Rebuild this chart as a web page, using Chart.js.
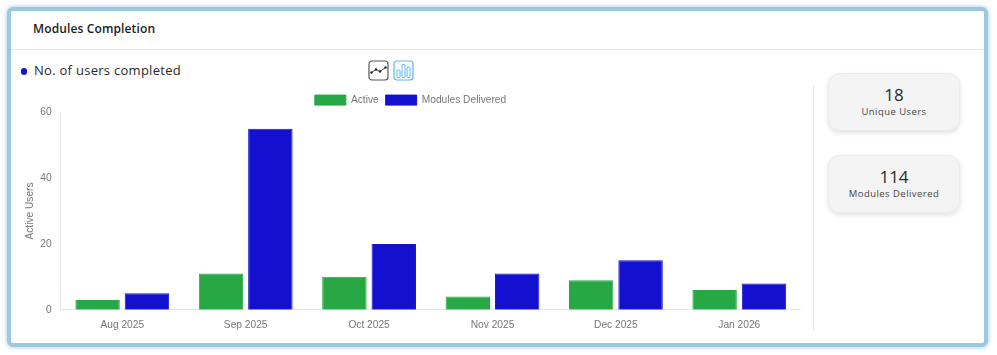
<!DOCTYPE html>
<html>
<head>
<meta charset="utf-8">
<title>Modules Completion</title>
<script src="https://cdn.jsdelivr.net/npm/chart.js@4/dist/chart.umd.min.js"></script>
<style>
  html, body { margin: 0; padding: 0; width: 997px; height: 355px; background: #fff; overflow: hidden; }
  body { font-family: "Open Sans", sans-serif; position: relative; }
  .frame {
    position: absolute; left: 7px; top: 7px; width: 973px; height: 332px;
    border: 4px solid #9cc8e0; border-radius: 6px;
    box-shadow: 0 0 5px rgba(120, 175, 210, .7); background: #fff;
  }
  .title { position: absolute; left: 33px; top: 20px; font-size: 12px; font-weight: 600; letter-spacing: .13px; color: #1b1b1b; }
  .header-line { position: absolute; left: 11px; top: 49px; width: 973px; height: 1px; background: #e6e6e6; }
  .dot { position: absolute; left: 20.5px; top: 68px; width: 6.5px; height: 6.5px; border-radius: 50%; background: #1410d0; }
  .sub { position: absolute; left: 34px; top: 61px; font-size: 13px; font-weight: 500; letter-spacing: .28px; color: #2a2a2a; }
  .icon { position: absolute; top: 60px; width: 21px; height: 21px; }
  .divider { position: absolute; left: 813px; top: 85px; width: 1px; height: 246px; background: #e6e6e6; }
  .stat {
    position: absolute; left: 828px; width: 132px; height: 58px; box-sizing: border-box;
    background: #f4f4f4; border: 1px solid #ececec; border-radius: 12px;
    box-shadow: 0 2px 5px rgba(0, 0, 0, .12); text-align: center; color: #2a2a2a;
  }
  .stat b { display: block; font-weight: 400; font-size: 17px; line-height: 20px; margin-top: 11px; }
  .stat span { display: block; font-size: 9.5px; font-weight: 500; line-height: 13px; color: #444; letter-spacing: .45px; }
  .chart-box { position: absolute; left: 20px; top: 88px; width: 781px; height: 244px; }
</style>
</head>
<body>
<div class="frame"></div>
<div class="title">Modules Completion</div>
<div class="header-line"></div>
<div class="dot"></div>
<div class="sub">No. of users completed</div>
<svg class="icon" style="left:368px" viewBox="0 0 21 21">
  <rect x="1" y="1" width="19" height="19" rx="3" fill="none" stroke="#555" stroke-width="1.2"/>
  <polyline points="3.5,12.5 8,9.5 12,11.5 17.5,7.5" fill="none" stroke="#222" stroke-width=".8"/>
  <circle cx="3.5" cy="12.5" r="1.2" fill="#222"/><circle cx="8" cy="9.5" r="1.2" fill="#222"/>
  <circle cx="12" cy="11.5" r="1.2" fill="#222"/><circle cx="17.5" cy="7.5" r="1.2" fill="#222"/>
</svg>
<svg class="icon" style="left:393px" viewBox="0 0 21 21">
  <rect x="1" y="1" width="19" height="19" rx="3" fill="none" stroke="#5bb8ea" stroke-width="1.2"/>
  <rect x="4" y="10" width="3" height="7.5" rx="1" fill="none" stroke="#5bb8ea"/>
  <rect x="9" y="4.5" width="3" height="13" rx="1" fill="none" stroke="#5bb8ea"/>
  <rect x="14" y="7" width="3" height="10.5" rx="1" fill="none" stroke="#5bb8ea"/>
</svg>
<div class="chart-box"><canvas id="modulesChart"></canvas></div>
<div class="divider"></div>
<div class="stat" style="top:73px"><b>18</b><span>Unique Users</span></div>
<div class="stat" style="top:155px"><b>114</b><span>Modules Delivered</span></div>

<script>
const months = ['Aug 2025', 'Sep 2025', 'Oct 2025', 'Nov 2025', 'Dec 2025', 'Jan 2026'];
const activeUsers = [3, 11, 10, 4, 9, 6];
const modulesDelivered = [5, 55, 20, 11, 15, 8];
const yTicks = [0, 20, 40, 60];

document.addEventListener('DOMContentLoaded', function() {
  Chart.defaults.font.family = '"Liberation Sans", Arial, sans-serif';
  Chart.defaults.color = '#777';

  // Tighten the gap between the legend and the plot
  const legendGap = {
    id: 'legendGap',
    beforeInit: function(chart) {
      const fit = chart.legend.fit;
      chart.legend.fit = function() {
        fit.call(this);
        this.height -= 3;
      };
    }
  };

  new Chart(document.getElementById('modulesChart'), {
    type: 'bar',
    plugins: [legendGap],
    data: {
      labels: months,
      datasets: [{
        label: 'Active',
        data: activeUsers,
        backgroundColor: '#28a745',
        borderColor: '#28a745',
        borderWidth: 1
      }, {
        label: 'Modules Delivered',
        data: modulesDelivered,
        backgroundColor: '#1410d0',
        borderColor: '#1410d0',
        borderWidth: 1
      }]
    },
    options: {
      responsive: true,
      maintainAspectRatio: false,
      animation: false,
      plugins: {
        legend: {
          position: 'top',
          labels: { boxWidth: 31, boxHeight: 10, padding: 7, font: { size: 10.2 } }
        },
        tooltip: { enabled: false }
      },
      scales: {
        x: {
          grid: { display: false },
          border: { color: '#e6e6e6' },
          ticks: { padding: 1, font: { size: 10.2 } }
        },
        y: {
          min: 0,
          max: 60,
          grid: { display: false },
          border: { color: '#e6e6e6' },
          afterBuildTicks: function(axis) {
            axis.ticks = yTicks.map(v => ({ value: v }));
          },
          ticks: { padding: 1, font: { size: 10.2 } },
          title: { display: true, text: 'Active Users', padding: { top: 4, bottom: 3 }, font: { size: 10.2 } }
        }
      }
    }
  });
});
</script>
</body>
</html>
